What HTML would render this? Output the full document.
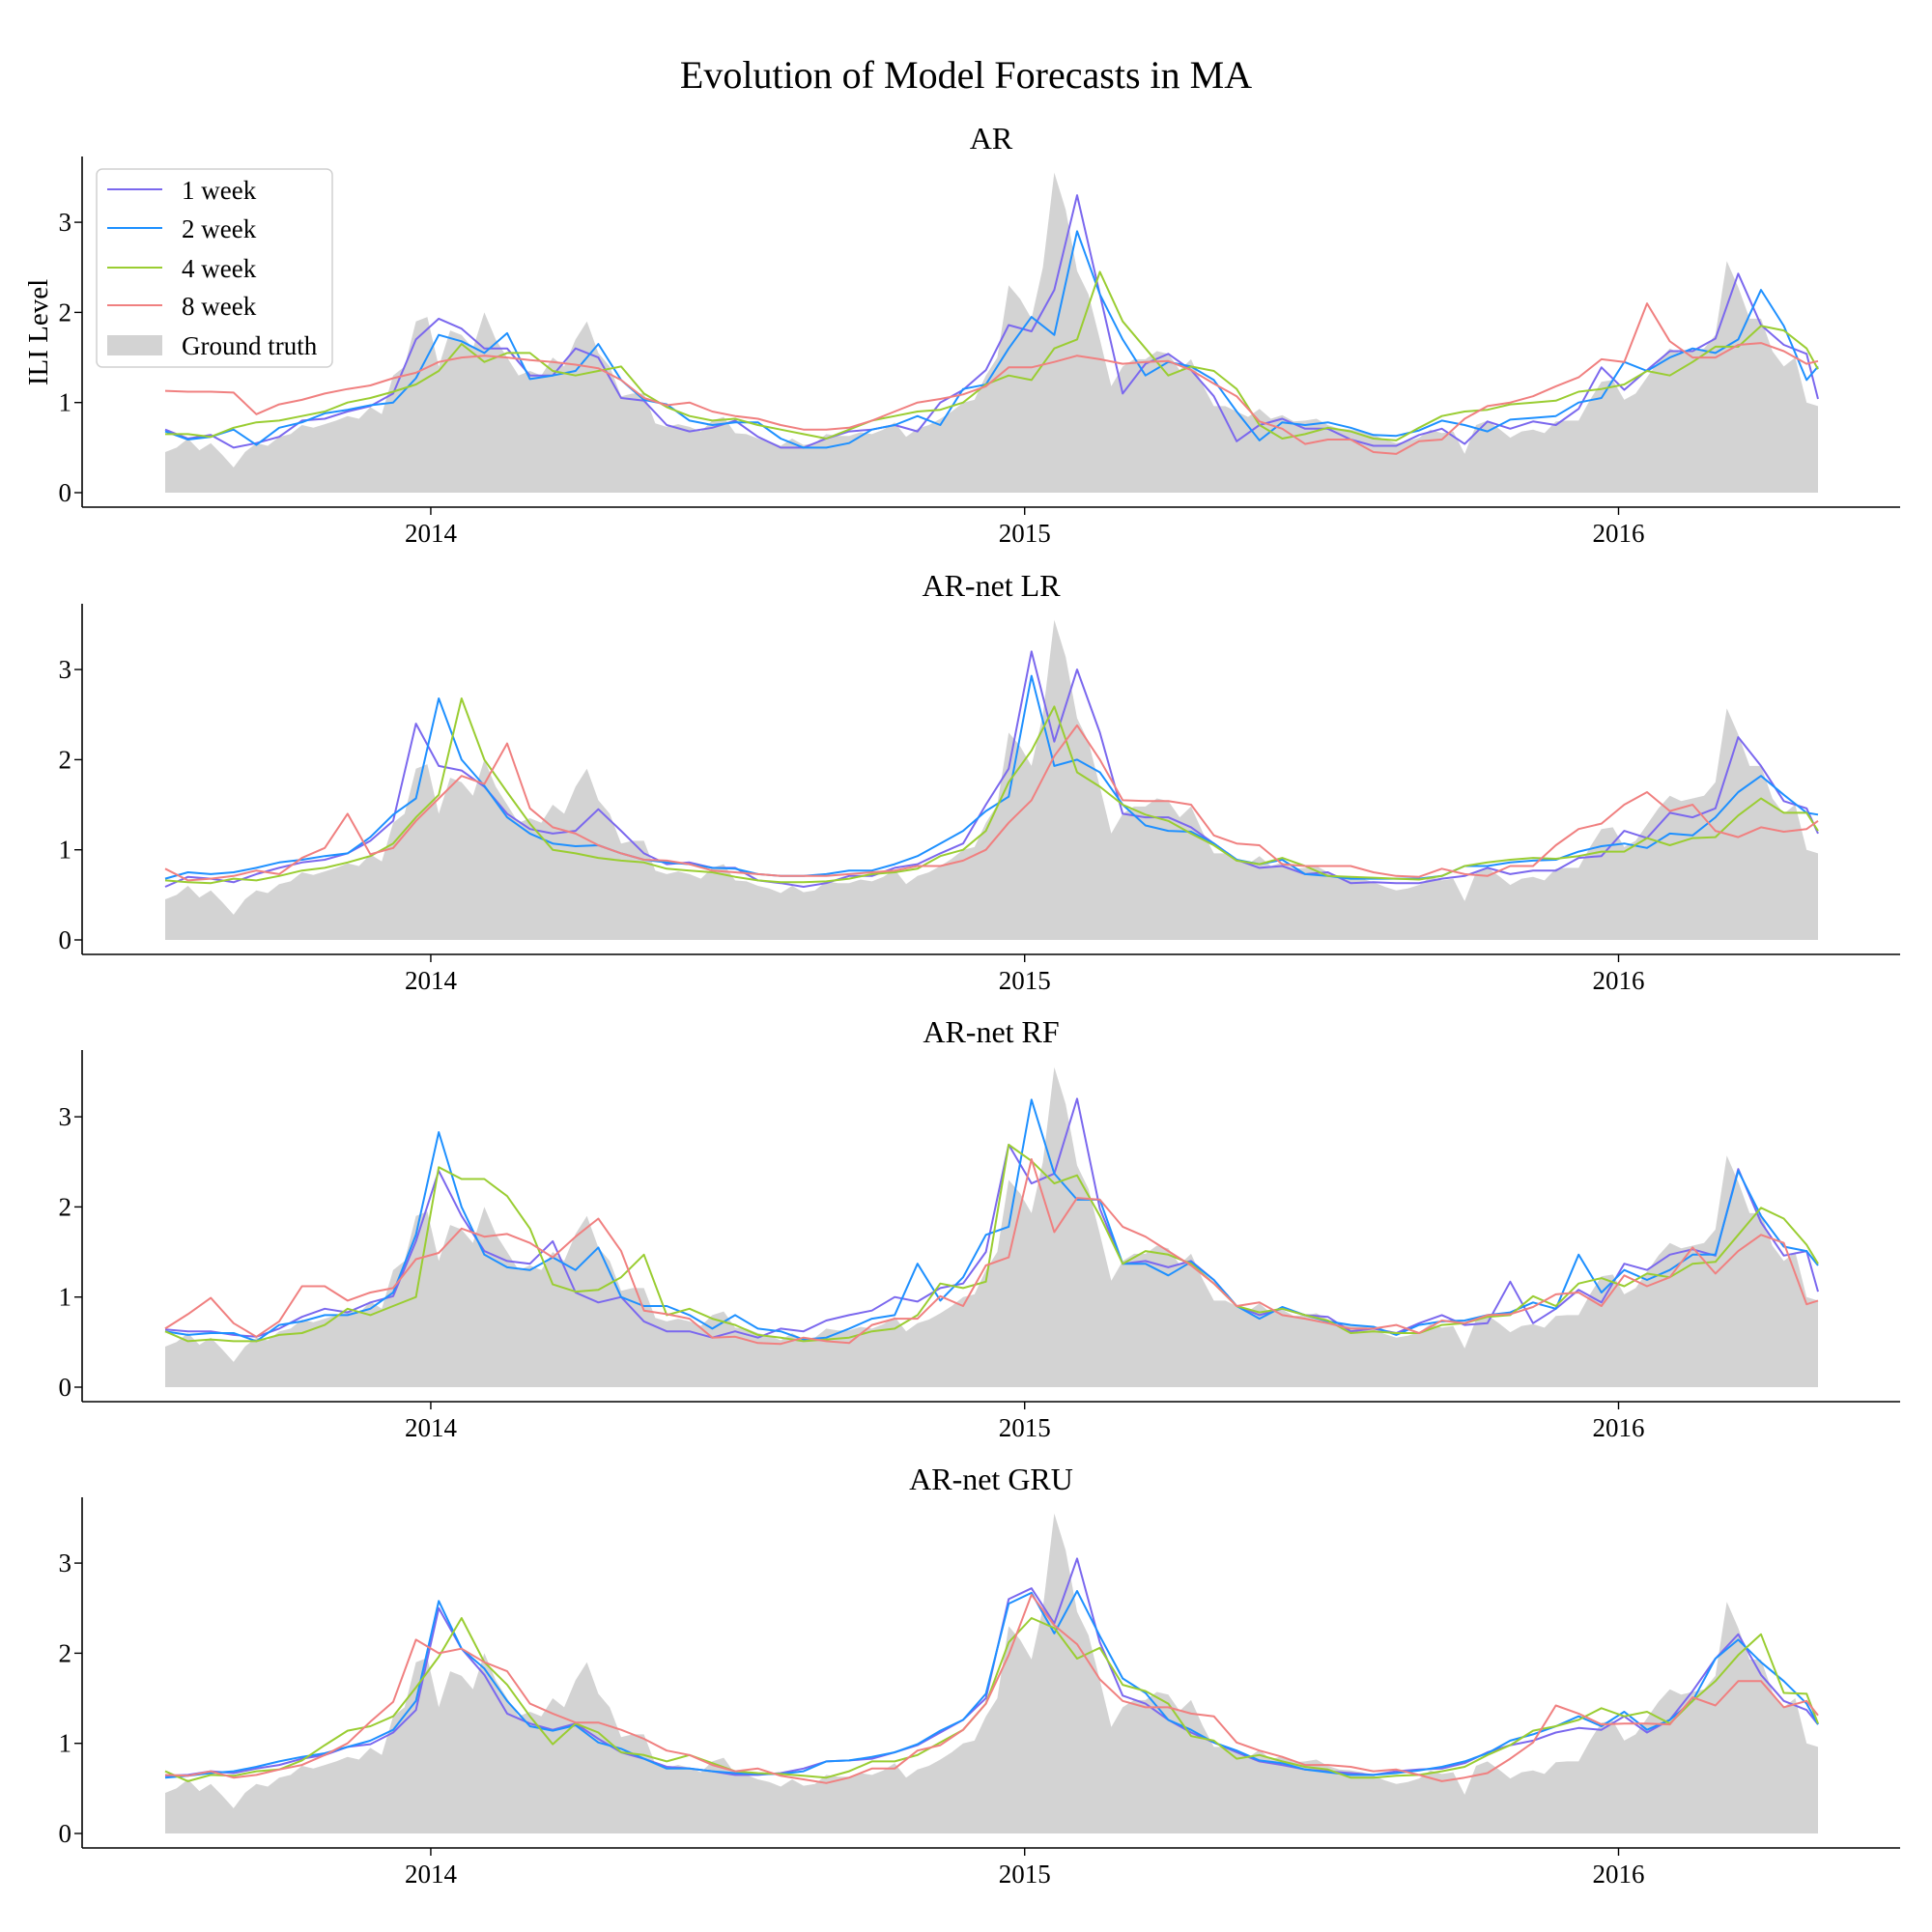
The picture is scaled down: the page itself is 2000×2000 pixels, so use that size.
<!DOCTYPE html>
<html><head><meta charset="utf-8"><title>Evolution of Model Forecasts in MA</title>
<style>html,body{margin:0;padding:0;background:#fff}svg{display:block}text{font-family:"Liberation Serif",serif;fill:#000}</style>
</head><body>
<svg id="chart" width="2000" height="2000" viewBox="0 0 2000 2000" xmlns="http://www.w3.org/2000/svg">
<rect width="2000" height="2000" fill="#fff"/>
<text x="1000" y="91" font-size="40" text-anchor="middle">Evolution of Model Forecasts in MA</text>
<g id="panels"></g>
<text transform="translate(49,344) rotate(-90)" font-size="29" text-anchor="middle">ILI Level</text>
<g id="legend">
<rect x="100" y="175" width="244" height="205" rx="6" fill="#fff" fill-opacity="0.8" stroke="#d0d0d0" stroke-width="1.5"/>
<line x1="111" y1="196" x2="168" y2="196" stroke="#7b68ee" stroke-width="2"/>
<text x="188" y="206" font-size="27">1 week</text>
<line x1="111" y1="236" x2="168" y2="236" stroke="#1e90ff" stroke-width="2"/>
<text x="188" y="246" font-size="27">2 week</text>
<line x1="111" y1="277" x2="168" y2="277" stroke="#9acd32" stroke-width="2"/>
<text x="188" y="287" font-size="27">4 week</text>
<line x1="111" y1="316" x2="168" y2="316" stroke="#f08080" stroke-width="2"/>
<text x="188" y="326" font-size="27">8 week</text>
<rect x="111" y="347" width="57" height="21" fill="#d3d3d3"/>
<text x="188" y="367" font-size="27">Ground truth</text>
</g>
</svg>
<script>
// ---- data ----
const panelTitles = ["AR", "AR-net LR", "AR-net RF", "AR-net GRU"];
const yTicks = [0, 1, 2, 3];
const xTickLabels = ["2014", "2015", "2016"];
const xTickWeeks = [23.3, 75.4, 127.5];
const groundTruth = [0.45,0.5,0.6,0.47,0.55,0.42,0.28,0.45,0.55,0.52,0.62,0.65,0.75,0.72,0.76,0.8,0.85,0.82,0.95,0.87,1.3,1.4,1.9,1.95,1.4,1.8,1.75,1.6,2.0,1.7,1.5,1.3,1.35,1.3,1.5,1.4,1.7,1.9,1.55,1.4,1.07,1.1,1.1,0.77,0.73,0.76,0.73,0.68,0.8,0.84,0.66,0.65,0.6,0.57,0.52,0.6,0.53,0.55,0.65,0.63,0.63,0.67,0.65,0.7,0.78,0.62,0.71,0.75,0.82,0.9,1.0,1.03,1.3,1.5,2.3,2.15,1.93,2.5,3.55,3.14,2.46,2.2,1.7,1.18,1.4,1.48,1.48,1.57,1.54,1.36,1.48,1.2,0.96,0.96,0.9,0.84,0.93,0.82,0.86,0.79,0.8,0.82,0.75,0.71,0.7,0.68,0.64,0.59,0.55,0.57,0.61,0.7,0.66,0.68,0.43,0.75,0.8,0.71,0.61,0.68,0.7,0.66,0.79,0.8,0.8,1.03,1.23,1.25,1.03,1.1,1.28,1.46,1.6,1.54,1.57,1.6,1.75,2.57,2.28,1.93,1.93,1.57,1.4,1.5,1.0,0.96];
// forecasts: every second week (weeks 0,2,...,144) plus final week 145
const ar1 = [0.7,0.6,0.64,0.5,0.55,0.62,0.8,0.82,0.9,0.96,1.1,1.7,1.93,1.82,1.6,1.6,1.3,1.3,1.6,1.5,1.05,1.02,0.75,0.68,0.72,0.8,0.62,0.5,0.5,0.6,0.68,0.7,0.75,0.68,1.0,1.14,1.36,1.86,1.79,2.25,3.3,2.2,1.1,1.43,1.54,1.36,1.07,0.57,0.75,0.82,0.71,0.71,0.59,0.52,0.52,0.64,0.71,0.54,0.79,0.71,0.79,0.75,0.93,1.39,1.14,1.36,1.57,1.57,1.71,2.43,1.86,1.64,1.54,1.04];
const ar2 = [0.68,0.59,0.62,0.7,0.53,0.72,0.78,0.88,0.92,0.97,1.0,1.27,1.75,1.68,1.55,1.77,1.26,1.3,1.35,1.65,1.25,1.03,0.98,0.8,0.75,0.78,0.78,0.6,0.5,0.5,0.55,0.7,0.75,0.85,0.75,1.15,1.2,1.6,1.95,1.75,2.9,2.2,1.7,1.3,1.45,1.4,1.25,0.9,0.58,0.78,0.75,0.78,0.72,0.64,0.63,0.69,0.8,0.75,0.68,0.81,0.83,0.85,1.0,1.05,1.45,1.35,1.5,1.6,1.55,1.7,2.25,1.85,1.25,1.4];
const ar4 = [0.65,0.65,0.62,0.72,0.78,0.8,0.85,0.9,1.0,1.05,1.12,1.2,1.35,1.65,1.45,1.55,1.55,1.35,1.3,1.35,1.4,1.1,0.95,0.85,0.8,0.82,0.75,0.7,0.65,0.6,0.7,0.8,0.85,0.9,0.92,1.0,1.2,1.3,1.25,1.6,1.7,2.45,1.9,1.6,1.3,1.4,1.35,1.15,0.75,0.6,0.65,0.72,0.68,0.6,0.58,0.72,0.85,0.9,0.92,0.98,1.0,1.02,1.12,1.15,1.2,1.35,1.3,1.45,1.62,1.62,1.85,1.8,1.6,1.37];
const ar8 = [1.13,1.12,1.12,1.11,0.87,0.98,1.03,1.1,1.15,1.19,1.27,1.33,1.45,1.5,1.52,1.5,1.47,1.45,1.42,1.38,1.25,1.05,0.97,1.0,0.9,0.85,0.82,0.75,0.7,0.7,0.72,0.8,0.9,1.0,1.04,1.09,1.18,1.39,1.39,1.45,1.52,1.48,1.43,1.45,1.46,1.36,1.21,1.07,0.79,0.71,0.54,0.59,0.59,0.45,0.43,0.57,0.59,0.82,0.96,1.0,1.07,1.18,1.28,1.48,1.45,2.1,1.68,1.5,1.5,1.64,1.66,1.57,1.43,1.46];
const lr1 = [0.59,0.7,0.68,0.64,0.73,0.8,0.86,0.89,0.96,1.1,1.32,2.4,1.93,1.88,1.7,1.4,1.23,1.18,1.21,1.45,1.21,0.96,0.84,0.86,0.8,0.8,0.66,0.63,0.59,0.63,0.71,0.71,0.8,0.84,0.96,1.07,1.5,1.9,3.2,2.2,3.0,2.3,1.4,1.36,1.36,1.25,1.07,0.89,0.8,0.82,0.73,0.75,0.63,0.64,0.63,0.63,0.68,0.71,0.8,0.73,0.77,0.77,0.91,0.93,1.21,1.13,1.41,1.36,1.46,2.25,1.93,1.54,1.46,1.18];
const lr2 = [0.68,0.75,0.73,0.75,0.8,0.86,0.89,0.93,0.96,1.14,1.39,1.57,2.68,2.0,1.71,1.36,1.18,1.07,1.04,1.05,0.96,0.89,0.86,0.84,0.8,0.79,0.73,0.71,0.71,0.73,0.77,0.77,0.84,0.93,1.07,1.21,1.43,1.59,2.93,1.93,2.0,1.86,1.5,1.27,1.21,1.2,1.07,0.89,0.84,0.89,0.73,0.71,0.68,0.68,0.68,0.68,0.71,0.82,0.82,0.86,0.88,0.89,0.98,1.04,1.07,1.02,1.18,1.16,1.36,1.64,1.82,1.61,1.41,1.39];
const lr4 = [0.66,0.64,0.63,0.68,0.66,0.71,0.77,0.8,0.86,0.93,1.07,1.36,1.61,2.68,2.0,1.64,1.29,1.0,0.96,0.91,0.88,0.86,0.79,0.77,0.75,0.7,0.66,0.64,0.64,0.65,0.68,0.73,0.75,0.79,0.93,1.0,1.21,1.75,2.1,2.59,1.86,1.7,1.5,1.39,1.32,1.18,1.05,0.88,0.84,0.91,0.82,0.71,0.7,0.69,0.68,0.67,0.71,0.82,0.86,0.89,0.91,0.9,0.93,0.98,0.98,1.13,1.05,1.13,1.14,1.38,1.57,1.41,1.41,1.21];
const lr8 = [0.79,0.66,0.68,0.71,0.77,0.73,0.91,1.02,1.4,0.95,1.02,1.32,1.57,1.82,1.73,2.18,1.46,1.25,1.18,1.05,0.96,0.89,0.88,0.84,0.77,0.75,0.73,0.71,0.71,0.71,0.73,0.75,0.77,0.82,0.82,0.88,1.0,1.3,1.55,2.04,2.38,2.0,1.55,1.54,1.54,1.5,1.16,1.07,1.05,0.84,0.82,0.82,0.82,0.75,0.71,0.7,0.79,0.73,0.71,0.82,0.82,1.05,1.23,1.29,1.5,1.64,1.43,1.5,1.21,1.14,1.25,1.2,1.23,1.32];
const rf1 = [0.64,0.62,0.62,0.58,0.56,0.65,0.78,0.87,0.83,0.94,1.01,1.62,2.4,1.9,1.51,1.4,1.37,1.62,1.05,0.94,1.0,0.73,0.62,0.62,0.55,0.62,0.55,0.65,0.62,0.74,0.8,0.85,1.0,0.95,1.1,1.15,1.5,2.69,2.26,2.37,3.2,1.98,1.37,1.4,1.33,1.4,1.19,0.9,0.8,0.87,0.8,0.78,0.62,0.65,0.6,0.71,0.8,0.69,0.71,1.17,0.71,0.87,1.08,0.94,1.37,1.3,1.47,1.53,1.46,2.42,1.83,1.46,1.51,1.06];
const rf2 = [0.62,0.58,0.6,0.6,0.51,0.69,0.73,0.8,0.8,0.87,1.05,1.69,2.83,2.0,1.47,1.33,1.3,1.44,1.3,1.55,1.0,0.9,0.9,0.8,0.65,0.8,0.65,0.62,0.53,0.55,0.65,0.76,0.8,1.37,0.96,1.22,1.69,1.78,3.19,2.37,2.08,2.08,1.37,1.37,1.24,1.39,1.19,0.9,0.76,0.89,0.8,0.73,0.69,0.67,0.58,0.69,0.73,0.74,0.8,0.83,0.94,0.87,1.47,1.05,1.3,1.19,1.3,1.47,1.47,2.4,1.9,1.56,1.51,1.35];
const rf4 = [0.62,0.51,0.53,0.51,0.51,0.58,0.6,0.69,0.87,0.8,0.9,1.0,2.44,2.31,2.31,2.12,1.76,1.14,1.06,1.08,1.22,1.47,0.8,0.87,0.76,0.69,0.58,0.55,0.51,0.53,0.55,0.62,0.65,0.8,1.15,1.1,1.17,2.69,2.51,2.26,2.35,1.9,1.37,1.51,1.47,1.37,1.15,0.9,0.83,0.87,0.8,0.74,0.6,0.62,0.6,0.6,0.69,0.71,0.78,0.8,1.01,0.9,1.15,1.21,1.12,1.26,1.22,1.37,1.39,1.69,1.99,1.87,1.58,1.37];
const rf8 = [0.65,0.81,0.99,0.71,0.56,0.73,1.12,1.12,0.96,1.05,1.1,1.42,1.49,1.76,1.67,1.7,1.6,1.44,1.67,1.87,1.51,0.85,0.81,0.76,0.55,0.56,0.49,0.48,0.55,0.51,0.49,0.69,0.76,0.76,1.01,0.9,1.35,1.44,2.53,1.72,2.1,2.08,1.78,1.67,1.51,1.35,1.15,0.9,0.94,0.8,0.76,0.71,0.65,0.65,0.69,0.6,0.74,0.71,0.8,0.81,0.89,1.03,1.05,0.9,1.24,1.12,1.22,1.55,1.26,1.51,1.69,1.6,0.92,0.96];
const gru1 = [0.64,0.65,0.69,0.67,0.72,0.76,0.83,0.87,0.96,0.99,1.12,1.37,2.5,2.05,1.76,1.33,1.22,1.15,1.22,1.05,0.9,0.83,0.74,0.72,0.69,0.65,0.65,0.67,0.72,0.8,0.81,0.83,0.9,0.98,1.12,1.26,1.5,2.6,2.72,2.33,3.05,2.12,1.53,1.44,1.26,1.12,1.01,0.9,0.8,0.76,0.71,0.69,0.67,0.65,0.69,0.71,0.72,0.78,0.9,0.98,1.03,1.12,1.17,1.15,1.3,1.12,1.26,1.58,1.94,2.21,1.76,1.47,1.37,1.21];
const gru2 = [0.62,0.64,0.67,0.69,0.74,0.8,0.85,0.89,0.96,1.03,1.15,1.47,2.58,2.05,1.83,1.47,1.19,1.14,1.2,1.01,0.94,0.83,0.72,0.72,0.69,0.67,0.66,0.66,0.69,0.8,0.81,0.85,0.9,0.99,1.14,1.26,1.55,2.55,2.67,2.22,2.69,2.19,1.72,1.56,1.26,1.15,1.01,0.92,0.81,0.78,0.71,0.68,0.65,0.65,0.67,0.7,0.74,0.8,0.89,1.03,1.1,1.19,1.3,1.19,1.35,1.15,1.26,1.47,1.94,2.15,1.9,1.69,1.44,1.21];
const gru4 = [0.69,0.58,0.65,0.64,0.69,0.71,0.81,0.98,1.14,1.19,1.3,1.62,1.96,2.39,1.9,1.65,1.3,0.99,1.22,1.12,0.9,0.87,0.8,0.87,0.78,0.69,0.67,0.66,0.64,0.62,0.69,0.8,0.8,0.87,1.01,1.15,1.44,2.12,2.39,2.28,1.94,2.06,1.65,1.58,1.44,1.08,1.03,0.83,0.87,0.8,0.74,0.71,0.62,0.62,0.64,0.65,0.69,0.74,0.87,0.98,1.14,1.19,1.26,1.39,1.3,1.35,1.22,1.47,1.69,1.98,2.21,1.56,1.55,1.22];
const gru8 = [0.65,0.64,0.69,0.62,0.65,0.71,0.76,0.87,1.0,1.24,1.46,2.15,2.0,2.05,1.9,1.8,1.44,1.33,1.23,1.23,1.15,1.05,0.92,0.87,0.76,0.69,0.72,0.64,0.6,0.56,0.62,0.72,0.72,0.92,0.98,1.15,1.44,1.98,2.65,2.31,2.1,1.71,1.47,1.4,1.4,1.33,1.3,1.01,0.92,0.85,0.76,0.76,0.74,0.69,0.71,0.65,0.58,0.62,0.67,0.83,1.01,1.42,1.33,1.21,1.22,1.22,1.21,1.51,1.42,1.69,1.69,1.4,1.47,1.31];
const panelSeries = [[ar1, ar2, ar4, ar8], [lr1, lr2, lr4, lr8], [rf1, rf2, rf4, rf8], [gru1, gru2, gru4, gru8]];
const seriesNames = ["1week", "2week", "4week", "8week"];
const seriesColors = ["#7b68ee", "#1e90ff", "#9acd32", "#f08080"];

// ---- layout ----
const NS = "http://www.w3.org/2000/svg";
const X0 = 171, WEEK = 11.8, AXL = 85, AXR = 1967, UNIT = 93.3;
const panelTop = [162, 625, 1087, 1550];
const panelBottom = [525, 988, 1451, 1913];
function xScale(w) { return X0 + w * WEEK; }
function yScaleFor(p) { const base = panelBottom[p] - 15; return v => base - v * UNIT; }
function forecastWeek(k, n) { return k === n - 1 ? 145 : 2 * k; }
function mk(tag, attrs, parent) { const e = document.createElementNS(NS, tag); for (const k in attrs) e.setAttribute(k, attrs[k]); parent.appendChild(e); return e; }

const root = document.getElementById("panels");
panelTitles.forEach((title, p) => {
  const y = yScaleFor(p);
  const g = mk("g", {}, root);
  
  
  let d = "M" + xScale(0) + "," + y(0);
  groundTruth.forEach((v, i) => { d += " L" + xScale(i).toFixed(1) + "," + y(v).toFixed(1); });
  d += " L" + xScale(groundTruth.length - 1).toFixed(1) + "," + y(0) + " Z";
  const area = mk("path", { d: d, fill: "#d3d3d3" }, g);
  
  
  panelSeries[p].forEach((arr, s) => {
    const pts = arr.map((v, k) => xScale(forecastWeek(k, arr.length)).toFixed(1) + "," + y(v).toFixed(1)).join(" ");
    const pl = mk("polyline", { points: pts, fill: "none", stroke: seriesColors[s], "stroke-width": 2, "stroke-linejoin": "round" }, g);
    
    
  });
  const ly = mk("line", { x1: AXL, y1: panelTop[p], x2: AXL, y2: panelBottom[p], stroke: "#000", "stroke-width": 1.6 }, g);
  
  
  const lx = mk("line", { x1: AXL, y1: panelBottom[p], x2: AXR, y2: panelBottom[p], stroke: "#000", "stroke-width": 1.6 }, g);
  
  
  yTicks.forEach(t => {
    const ty = y(t);
    const tk = mk("line", { x1: AXL - 8, y1: ty, x2: AXL, y2: ty, stroke: "#000", "stroke-width": 1.4 }, g);
    
    
    const tl = mk("text", { x: 74, y: ty + 9, "font-size": 27, "text-anchor": "end" }, g);
    tl.textContent = String(t);
    
    
  });
  xTickLabels.forEach((lab, j) => {
    const tx = xScale(xTickWeeks[j]);
    const tk = mk("line", { x1: tx, y1: panelBottom[p], x2: tx, y2: panelBottom[p] + 8, stroke: "#000", "stroke-width": 1.4 }, g);
    
    
    const tl = mk("text", { x: tx, y: panelBottom[p] + 36, "font-size": 27, "text-anchor": "middle" }, g);
    tl.textContent = lab;
    
    
  });
  const tt = mk("text", { x: 1026, y: panelTop[p] - 8, "font-size": 32, "text-anchor": "middle" }, g);
  tt.textContent = title;
  
  
});
</script>
</body></html>
